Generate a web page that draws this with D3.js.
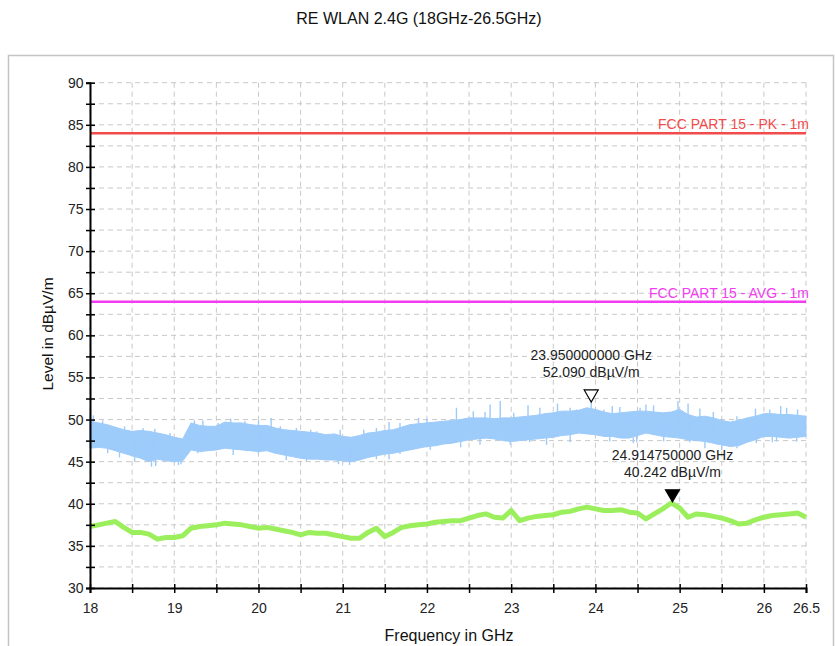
<!DOCTYPE html>
<html>
<head>
<meta charset="utf-8">
<script src="https://cdn.jsdelivr.net/npm/d3@7"></script>
<style>
  body { margin: 0; background: #fff; }
  text { font-family: Arial, "Liberation Sans", sans-serif; }
</style>
</head>
<body>
<div id="chart"></div>
<script>
  // ---- data (frequency step 0.1 GHz, 18.0 .. 26.5) ----
  const startGHz = 18, stepGHz = 0.1

  // peak trace: upper and lower edge of the noise band, dBuV/m
  const pkHi = [49.8,49.6,49.4,49.1,48.8,48.6,48.7,48.6,48.4,48.2,
                47.9,47.7,49.6,49.3,49.2,49.2,49.7,49.6,49.6,49.4,
                49.3,49.3,49.0,48.8,48.7,48.6,48.5,48.4,48.2,48.3,
                48.0,47.9,48.1,48.4,48.5,48.7,48.8,49.1,49.4,49.5,
                49.6,49.7,49.8,49.9,50.0,50.2,50.2,50.2,50.1,50.2,
                50.2,50.3,50.4,50.5,50.7,50.8,51.0,51.0,51.1,51.4,
                51.2,50.9,50.7,50.8,50.9,51.0,51.0,50.9,50.8,50.9,
                51.2,50.6,50.3,50.4,50.2,49.9,49.7,49.9,50.2,50.4,
                50.7,50.7,50.6,50.6,50.5,50.4]
  const pkLo = [46.6,46.7,46.6,46.3,46.0,45.7,45.4,45.0,45.3,45.1,
                45.0,45.1,46.4,46.2,46.3,46.4,46.6,46.5,46.4,46.3,
                46.2,46.3,46.0,45.8,45.6,45.4,45.3,45.3,45.2,45.2,
                45.1,45.0,45.2,45.5,45.7,45.9,46.0,46.2,46.4,46.6,
                46.8,46.9,47.1,47.2,47.4,47.6,47.7,47.8,47.7,47.5,
                47.4,47.5,47.6,47.7,47.8,47.9,48.1,48.2,48.4,48.3,
                48.2,48.0,48.0,47.8,47.8,48.1,48.4,48.2,48.0,47.9,
                47.8,47.6,47.5,47.4,47.2,47.0,46.8,46.9,47.3,47.6,
                48.0,48.0,47.9,47.8,47.9,48.0]
  // single spikes sticking out of the band: [GHz, dBuV/m]
  const pkSpikesUp = [[18.0,50.8],[18.04,50.5],[18.15,49.9],[18.41,49.2],[18.63,49.0],
                      [18.77,48.9],[18.95,48.4],[19.24,49.9],[19.34,49.9],[19.52,49.6],
                      [19.67,50.1],[19.84,49.8],[20.0,49.9],[20.15,50.2],[20.26,49.2],
                      [20.45,49.0],[20.62,48.8],[20.69,48.6],[20.97,48.8],[21.25,48.8],
                      [21.4,49.0],[21.55,49.7],[21.68,49.6],[21.9,50.2],[22.0,50.1],
                      [22.35,51.4],[22.55,51.0],[22.69,50.9],[22.75,51.8],[22.87,52.2],
                      [23.03,50.8],[23.2,51.7],[23.34,51.4],[23.55,51.9],[23.7,51.4],
                      [23.78,51.2],[23.95,52.09],[24.1,51.2],[24.2,51.6],[24.29,51.5],
                      [24.53,51.4],[24.6,51.8],[24.69,51.7],[24.98,52.2],[25.1,51.9],
                      [25.24,51.3],[25.4,50.9],[25.68,50.4],[25.9,51.3],[26.07,51.2],
                      [26.2,51.6],[26.27,51.4],[26.4,51.2]]
  const pkSpikesDown = [[18.21,46.0],[18.35,45.5],[18.53,45.0],[18.73,44.4],[18.78,44.5],
                        [19.05,44.6],[19.08,44.7],[19.28,46.0],[19.7,45.8],[20.0,46.0],
                        [20.33,45.2],[20.57,45.0],[20.95,44.7],[21.08,44.6],[21.09,45.0],
                        [21.4,45.3],[21.55,45.3],[21.68,45.9],[22.04,46.4],[22.4,46.7],
                        [22.63,47.0],[22.99,47.0],[23.22,47.3],[23.42,47.0],[23.7,47.3],
                        [24.17,47.4],[24.45,47.2],[24.49,47.3],[24.81,47.4],[25.12,47.3],
                        [25.3,46.6],[25.44,47.0],[25.5,46.4],[25.68,46.6],[25.91,47.2],
                        [26.1,47.3],[26.15,47.4],[26.39,47.4]]

  // average trace, dBuV/m
  const avg = [37.3,37.5,37.7,37.9,37.2,36.6,36.6,36.4,35.8,36.0,
               36.0,36.2,37.1,37.3,37.4,37.5,37.7,37.6,37.5,37.3,
               37.1,37.2,37.0,36.8,36.6,36.3,36.6,36.5,36.5,36.3,
               36.1,35.9,35.9,36.6,37.1,36.1,36.6,37.2,37.4,37.5,
               37.6,37.8,37.9,38.0,38.0,38.3,38.6,38.8,38.4,38.3,
               39.2,38.0,38.3,38.5,38.6,38.7,39.0,39.1,39.4,39.6,
               39.4,39.2,39.2,39.3,39.0,38.9,38.2,38.8,39.4,40.1,
               39.5,38.4,38.8,38.7,38.5,38.3,38.0,37.6,37.7,38.1,
               38.4,38.6,38.7,38.8,38.9,38.4]

  // limit lines
  const limits = [
    { name: 'FCC PART 15 - PK - 1m',  level: 84, color: '#f24b4b' },
    { name: 'FCC PART 15 - AVG - 1m', level: 64, color: '#f23cf2' }
  ]

  // markers
  const markers = [
    { f: 23.95,     v: 52.090, label1: '23.950000000 GHz', label2: '52.090 dB\u00b5V/m', filled: false },
    { f: 24.91475,  v: 40.242, label1: '24.914750000 GHz', label2: '40.242 dB\u00b5V/m', filled: true }
  ]

  const xTicks = d3.range(18).map(i => 18 + i * 0.5)
  const xLabels = [18, 19, 20, 21, 22, 23, 24, 25, 26, 26.5]
  const yTicks = d3.range(25).map(i => 30 + i * 2.5)
  const yLabels = [30, 35, 40, 45, 50, 55, 60, 65, 70, 75, 80, 85, 90]

  // ---- layout ----
  let W = 835, H = 646,
      pLeft = 90, pRight = 806, pTop = 82.7, pBottom = 588

  let x = d3.scaleLinear().domain([18, 26.5]).range([pLeft, pRight]),
      y = d3.scaleLinear().domain([30, 90]).range([pBottom, pTop])

  let fAt = i => startGHz + i * stepGHz
  let idxAt = f => Math.round((f - startGHz) / stepGHz)

  let svg = d3.select('#chart')
              .append('svg')
              .attr('width', W)
              .attr('height', H)

  // outer frame
  svg.append('rect')
    .attr('x', 8.5).attr('y', 55.5)
    .attr('width', 825).attr('height', 620)
    .attr('fill', 'none')
    .attr('stroke', '#c4c4c4')
    .attr('stroke-width', 1.5)

  svg.append('text')
    .attr('x', 419).attr('y', 24)
    .attr('text-anchor', 'middle')
    .attr('font-size', 16)
    .attr('fill', '#111')
    .text('RE WLAN 2.4G (18GHz-26.5GHz)')

  // grid
  let grid = svg.append('g').attr('stroke', '#c8c8c8').attr('stroke-dasharray', '5,4')
  grid.selectAll('.gx').data(xTicks).enter()
    .append('line')
      .attr('x1', d => x(d)).attr('x2', d => x(d))
      .attr('y1', pTop).attr('y2', pBottom)
  grid.selectAll('.gy').data(yTicks).enter()
    .append('line')
      .attr('x1', pLeft).attr('x2', pRight)
      .attr('y1', d => y(d)).attr('y2', d => y(d))

  // limit lines + names
  limits.forEach(l => {
    svg.append('line')
      .attr('x1', pLeft).attr('x2', pRight)
      .attr('y1', y(l.level)).attr('y2', y(l.level))
      .attr('stroke', l.color)
      .attr('stroke-width', 2.5)
    svg.append('text')
      .attr('x', pRight + 3).attr('y', y(l.level) - 4)
      .attr('text-anchor', 'end')
      .attr('font-size', 14)
      .attr('fill', l.color)
      .text(l.name)
  })

  // peak trace as a filled noise band
  const pkColor = '#9dcbfa'
  let band = d3.area()
               .x((d, i) => x(fAt(i)))
               .y0((d, i) => y(pkLo[i]))
               .y1(d => y(d))
  svg.append('path')
    .attr('d', band(pkHi))
    .attr('fill', pkColor)
    .attr('stroke', pkColor)
    .attr('stroke-width', 1)

  let spikes = svg.append('g').attr('stroke', pkColor).attr('stroke-width', 1.4)
  spikes.selectAll('.up').data(pkSpikesUp).enter()
    .append('line')
      .attr('x1', d => x(d[0])).attr('x2', d => x(d[0]))
      .attr('y1', d => y(d[1]))
      .attr('y2', d => y(pkLo[idxAt(d[0])] + 1))
  spikes.selectAll('.down').data(pkSpikesDown).enter()
    .append('line')
      .attr('x1', d => x(d[0])).attr('x2', d => x(d[0]))
      .attr('y1', d => y(d[1]))
      .attr('y2', d => y(pkHi[idxAt(d[0])] - 1))

  // average trace
  let lineFunction = d3.line()
                       .x((d, i) => x(fAt(i)))
                       .y(d => y(d))
  svg.append('path')
    .attr('d', lineFunction(avg))
    .attr('fill', 'none')
    .attr('stroke', '#9cef5c')
    .attr('stroke-width', 5)
    .attr('stroke-linejoin', 'round')

  // axes
  let xAxis = svg.append('g')
    .attr('transform', `translate(0,${pBottom})`)
    .call(d3.axisBottom(x)
            .tickValues(xTicks)
            .tickSize(5)
            .tickPadding(10)
            .tickFormat(d => xLabels.includes(d) ? d3.format('~g')(d) : ''))
  let yAxis = svg.append('g')
    .attr('transform', `translate(${pLeft},0)`)
    .call(d3.axisLeft(y)
            .tickValues(yTicks)
            .tickSize(4)
            .tickPadding(2.5)
            .tickFormat(d => yLabels.includes(d) ? d : ''))

  ;[xAxis, yAxis].forEach(a => {
    a.select('.domain').attr('stroke', '#000').attr('stroke-width', 2)
    a.selectAll('.tick line').attr('stroke', '#000').attr('stroke-width', 1.5)
    a.selectAll('.tick text')
      .attr('font-family', 'Arial, "Liberation Sans", sans-serif')
      .attr('font-size', 14)
      .attr('fill', '#222')
  })
  xAxis.selectAll('.tick line').attr('y1', -4)
  yAxis.selectAll('.tick line').attr('x1', 5)

  // axis titles
  svg.append('text')
    .attr('x', 449).attr('y', 641)
    .attr('text-anchor', 'middle')
    .attr('font-size', 16)
    .attr('fill', '#111')
    .text('Frequency in GHz')
  svg.append('text')
    .attr('transform', 'translate(53,334) rotate(-90)')
    .attr('text-anchor', 'middle')
    .attr('font-size', 15.5)
    .attr('fill', '#111')
    .text('Level in dB\u00b5V/m')

  // markers
  let tri = d3.line()
  markers.forEach(m => {
    let mx = x(m.f), my = y(m.v)
    svg.append('path')
      .attr('d', tri([[mx - 7, my - 12], [mx + 7, my - 12], [mx, my]]) + 'Z')
      .attr('fill', m.filled ? '#000' : '#fff')
      .attr('stroke', '#000')
      .attr('stroke-width', 1.2)
    svg.append('text')
      .attr('x', mx).attr('y', my - 42)
      .attr('text-anchor', 'middle')
      .attr('font-size', 14)
      .attr('fill', '#222')
      .text(m.label1)
    svg.append('text')
      .attr('x', mx).attr('y', my - 25)
      .attr('text-anchor', 'middle')
      .attr('font-size', 14)
      .attr('fill', '#222')
      .text(m.label2)
  })
</script>
</body>
</html>
